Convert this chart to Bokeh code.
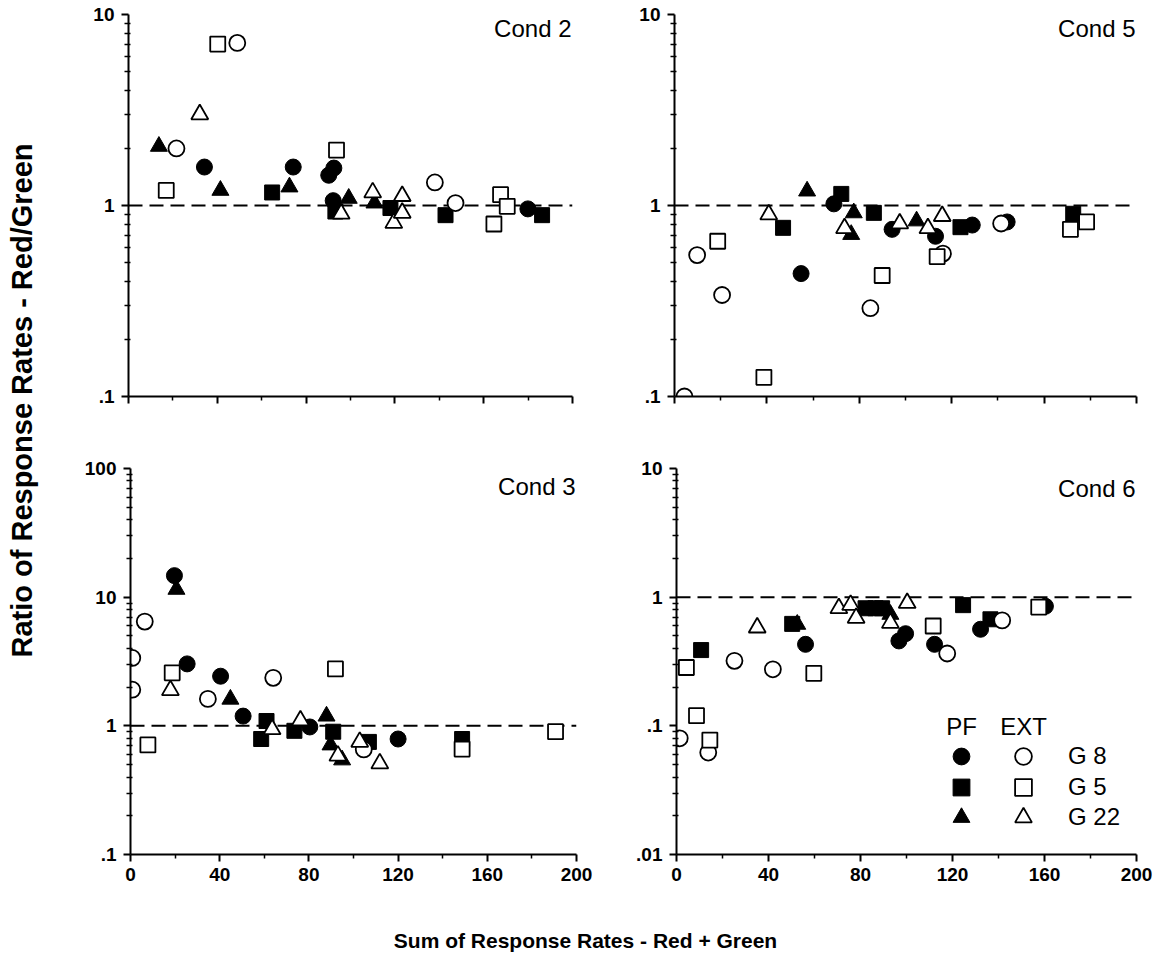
import math
from bokeh.plotting import figure
from bokeh.models import (Range1d, FixedTicker, Span, Label, Legend, LegendItem,
                          CustomJSTickFormatter)
from bokeh.layouts import row, column
from bokeh.embed import file_html
from bokeh.resources import INLINE

FONT = "Liberation Sans"

# ---------------- texts / ticks ----------------
x_major_ticks = [0, 40, 80, 120, 160, 200]
x_minor_ticks = [20, 60, 100, 140, 180]
cond_titles = ["Cond 2", "Cond 5", "Cond 3", "Cond 6"]
legend_headers = ["PF", "EXT"]
legend_groups = ["G 8", "G 5", "G 22"]
y_title = "Ratio of Response Rates - Red/Green"
x_title = "Sum of Response Rates - Red + Green"

# ---------------- Cond 2 ----------------
c2_pf_g8_x = [34.2, 74.2, 92.5, 90.2, 92.2, 179.9]
c2_pf_g8_y = [1.59, 1.59, 1.57, 1.44, 1.06, 0.96]
c2_pf_g5_x = [64.7, 93.2, 118.0, 142.8, 186.3]
c2_pf_g5_y = [1.17, 0.93, 0.97, 0.89, 0.89]
c2_pf_g22_x = [13.7, 41.4, 72.5, 99.2, 110.8]
c2_pf_g22_y = [2.04, 1.20, 1.25, 1.09, 1.03]
c2_ext_g8_x = [21.6, 49.0, 138.0, 147.3]
c2_ext_g8_y = [1.99, 7.1, 1.32, 1.03]
c2_ext_g5_x = [17.0, 40.2, 93.7, 167.6, 164.6, 170.6]
c2_ext_g5_y = [1.20, 7.0, 1.95, 1.14, 0.80, 0.99]
c2_ext_g22_x = [32.1, 95.8, 110.0, 119.5, 123.3, 123.3]
c2_ext_g22_y = [3.0, 0.905, 1.17, 0.81, 1.12, 0.915]

# ---------------- Cond 5 ----------------
c5_pf_g8_x = [54.8, 69.0, 94.2, 113.0, 128.9, 144.0]
c5_pf_g8_y = [0.44, 1.02, 0.75, 0.69, 0.79, 0.82]
c5_pf_g5_x = [47.0, 72.2, 86.3, 123.8, 172.6]
c5_pf_g5_y = [0.764, 1.15, 0.915, 0.77, 0.905]
c5_pf_g22_x = [57.4, 77.6, 76.5, 104.8]
c5_pf_g22_y = [1.19, 0.915, 0.705, 0.83]
c5_ext_g8_x = [4.3, 9.8, 20.6, 84.8, 116.2, 141.4]
c5_ext_g8_y = [0.1, 0.55, 0.34, 0.29, 0.56, 0.805]
c5_ext_g5_x = [18.7, 38.7, 89.9, 113.7, 171.4, 178.4]
c5_ext_g5_y = [0.65, 0.126, 0.43, 0.54, 0.75, 0.82]
c5_ext_g22_x = [40.8, 73.6, 97.5, 109.7, 115.9]
c5_ext_g22_y = [0.897, 0.76, 0.805, 0.76, 0.88]

# ---------------- Cond 3 ----------------
c3_pf_g8_x = [19.7, 25.4, 40.4, 50.5, 80.4, 120.0]
c3_pf_g8_y = [14.7, 3.03, 2.43, 1.19, 0.98, 0.79]
c3_pf_g5_x = [61.0, 58.6, 73.5, 90.9, 106.9, 148.7]
c3_pf_g5_y = [1.09, 0.79, 0.915, 0.90, 0.75, 0.79]
c3_pf_g22_x = [20.6, 44.8, 87.9, 89.7, 94.9]
c3_pf_g22_y = [11.5, 1.61, 1.19, 0.71, 0.543]
c3_ext_g8_x = [0.8, 0.8, 6.4, 34.7, 64.0, 104.6]
c3_ext_g8_y = [3.37, 1.91, 6.46, 1.62, 2.36, 0.656]
c3_ext_g5_x = [7.8, 18.7, 91.9, 148.7, 190.6]
c3_ext_g5_y = [0.71, 2.58, 2.77, 0.66, 0.90]
c3_ext_g22_x = [17.9, 63.5, 76.2, 93.0, 102.8, 111.8]
c3_ext_g22_y = [1.89, 0.94, 1.10, 0.586, 0.75, 0.51]

# ---------------- Cond 6 ----------------
c6_pf_g8_x = [56.1, 96.7, 99.6, 112.2, 132.2, 160.4]
c6_pf_g8_y = [0.43, 0.457, 0.52, 0.43, 0.563, 0.85]
c6_pf_g5_x = [10.7, 50.3, 82.2, 86.5, 89.4, 124.6, 136.5]
c6_pf_g5_y = [0.388, 0.62, 0.82, 0.82, 0.82, 0.867, 0.673]
c6_pf_g22_x = [52.5, 93.0]
c6_pf_g22_y = [0.615, 0.735]
c6_ext_g8_x = [1.4, 13.8, 25.2, 41.9, 117.7, 141.6]
c6_ext_g8_y = [0.080, 0.062, 0.32, 0.275, 0.365, 0.66]
c6_ext_g5_x = [4.3, 8.7, 14.5, 59.7, 111.6, 157.5]
c6_ext_g5_y = [0.284, 0.12, 0.0775, 0.256, 0.597, 0.837]
c6_ext_g22_x = [35.1, 70.6, 75.7, 78.1, 93.0, 100.3]
c6_ext_g22_y = [0.58, 0.82, 0.87, 0.69, 0.63, 0.90]

# ---------------- styling ----------------
MARKERS = [("circle", 16), ("square", 15), ("triangle", 17)]


def log_ticks(lo_exp, hi_exp):
    majors = [10.0 ** e for e in range(lo_exp, hi_exp + 1)]
    minors = [m * 10.0 ** e for e in range(lo_exp, hi_exp) for m in range(2, 10)]
    majors = [float(f"{v:.10g}") for v in majors]
    minors = [float(f"{v:.10g}") for v in minors]
    return majors, minors


y_fmt = CustomJSTickFormatter(code="""
var s = String(tick);
if (tick < 1) { s = s.replace(/^0/, ''); }
return s;
""")
blank_fmt = CustomJSTickFormatter(code="return '';")


def make_panel(width, height, bl, br, bt, bb, lo_exp, hi_exp, show_x_labels,
               title, title_y, series):
    majors, minors = log_ticks(lo_exp, hi_exp)
    p = figure(width=width, height=height,
               x_range=Range1d(0, 200),
               y_range=Range1d(10.0 ** lo_exp, 10.0 ** hi_exp),
               y_axis_type="log", toolbar_location=None, output_backend="svg",
               min_border_left=bl, min_border_right=br,
               min_border_top=bt, min_border_bottom=bb)
    p.outline_line_color = None
    p.grid.visible = False
    p.background_fill_color = "white"
    p.border_fill_color = "white"

    xa = p.xaxis[0]
    xa.ticker = FixedTicker(ticks=x_major_ticks, minor_ticks=x_minor_ticks)
    xa.formatter = CustomJSTickFormatter(code="return String(tick);") if show_x_labels else blank_fmt
    ya = p.yaxis[0]
    ya.ticker = FixedTicker(ticks=majors, minor_ticks=minors)
    ya.formatter = y_fmt
    for ax in (xa, ya):
        ax.axis_line_color = "black"
        ax.axis_line_width = 2
        ax.major_tick_line_color = "black"
        ax.major_tick_line_width = 2
        ax.minor_tick_line_color = "black"
        ax.minor_tick_line_width = 1.5
        ax.major_tick_in = 0
        ax.major_tick_out = 7
        ax.minor_tick_out = 4
        ax.major_label_text_font = FONT
        ax.major_label_text_font_style = "bold"
        ax.major_label_text_font_size = "19px"
        ax.major_label_text_color = "black"
    xa.minor_tick_in = 0
    ya.minor_tick_in = 2
    xa.major_label_standoff = 6
    ya.major_label_standoff = 7

    p.add_layout(Span(location=1, dimension="width", line_color="black",
                      line_width=2, line_dash="14 7", level="underlay"))

    renderers = {}
    # filled (PF) first, then open (EXT)
    for kind, fill, lw in (("pf", "black", 1.0), ("ext", "white", 1.8)):
        for (marker, size), g in zip(MARKERS, ("g8", "g5", "g22")):
            xs, ys = series[f"{kind}_{g}"]
            r = p.scatter(xs, ys, marker=marker, size=size, fill_color=fill,
                          line_color="black", line_width=lw)
            renderers[f"{kind}_{g}"] = r

    fw = width - bl - br
    fh = height - bt - bb
    p.add_layout(Label(x=fw - 1, y=fh - title_y, x_units="screen", y_units="screen",
                       text=title, text_align="right", text_baseline="middle",
                       text_font=FONT, text_font_size="24px", text_color="black"))
    return p, renderers


def ser(prefix):
    g = globals()
    out = {}
    for k in ("pf", "ext"):
        for grp in ("g8", "g5", "g22"):
            out[f"{k}_{grp}"] = (g[f"{prefix}_{k}_{grp}_x"], g[f"{prefix}_{k}_{grp}_y"])
    return out


p_tl, _ = make_panel(575, 440, 83, 48, 14, 44, -1, 1, False, cond_titles[0], 14, ser("c2"))
p_tr, _ = make_panel(549, 440, 54, 33, 14, 44, -1, 1, False, cond_titles[1], 14, ser("c5"))
p_bl, _ = make_panel(575, 460, 85, 44, 28, 46, -1, 2, True, cond_titles[2], 18, ser("c3"))
p_br, rr = make_panel(549, 460, 56, 33, 28, 45, -2, 1, True, cond_titles[3], 21, ser("c6"))

# ---- legend: one single-item legend per key so rows can sit close together ----
common_leg = dict(glyph_width=42, glyph_height=42, padding=0, margin=0,
                  border_line_color=None, background_fill_alpha=0,
                  label_text_font=FONT, label_text_font_size="24px",
                  label_text_color="black", label_height=20, label_width=0)
row_offsets = [77, 46, 16]          # legend-box bottoms above the frame bottom (px)
for grp, lab, vy in zip(("g8", "g5", "g22"), legend_groups, row_offsets):
    p_br.add_layout(Legend(items=[LegendItem(label=" ", renderers=[rr["pf_" + grp]])],
                           location=(264, vy), label_standoff=0, **common_leg))
    p_br.add_layout(Legend(items=[LegendItem(label=lab, renderers=[rr["ext_" + grp]])],
                           location=(326, vy), label_standoff=24, **common_leg))
for hdr, hx in zip(legend_headers, (285, 347)):
    p_br.add_layout(Label(x=hx, y=128, x_units="screen", y_units="screen", text=hdr,
                          text_align="center", text_baseline="middle",
                          text_font=FONT, text_font_size="24px", text_color="black"))


def text_fig(w, h):
    f = figure(width=w, height=h, x_range=Range1d(0, 1), y_range=Range1d(0, 1),
               toolbar_location=None, output_backend="svg", min_border=0,
               x_axis_location=None, y_axis_location=None)
    f.outline_line_color = None
    f.grid.visible = False
    return f


yt = text_fig(45, 900)
yt.add_layout(Label(x=21, y=500, x_units="screen", y_units="screen", text=y_title,
                    angle=math.pi / 2, text_align="center", text_baseline="middle",
                    text_font=FONT, text_font_size="29px", text_font_style="bold",
                    text_color="black"))
xt = text_fig(1169, 54)
xt.add_layout(Label(x=585, y=14, x_units="screen", y_units="screen", text=x_title,
                    text_align="center", text_baseline="middle",
                    text_font=FONT, text_font_size="21px", text_font_style="bold",
                    text_color="black"))

layout = column(row(yt, column(row(p_tl, p_tr), row(p_bl, p_br))), xt)

open("out.html", "w").write(file_html(layout, INLINE))
